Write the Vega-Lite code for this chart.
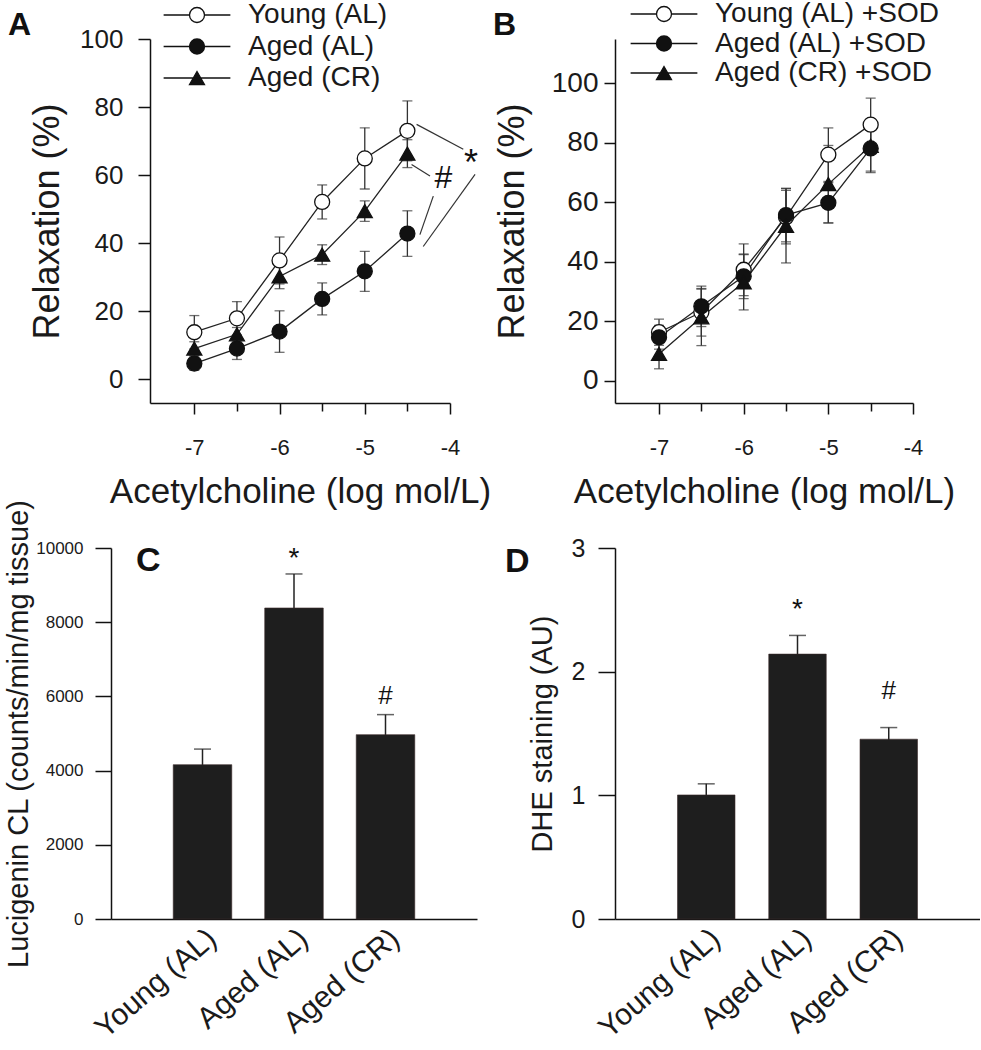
{
  "$schema": "https://vega.github.io/schema/vega-lite/v6.json",
  "background": "white",
  "padding": {"left": 4, "top": 0, "right": 0, "bottom": 0},
  "config": {
    "font": "Liberation Sans",
    "view": {"stroke": null},
    "axis": {"grid": false, "domainColor": "#111", "tickColor": "#111", "labelColor": "#1a1a1a", "titleColor": "#1a1a1a", "labelFont": "Liberation Sans", "titleFont": "Liberation Sans", "titleFontWeight": "normal", "domainWidth": 1.5, "tickWidth": 1.5},
    "title": {"font": "Liberation Sans", "color": "#111"},
    "legend": {"title": null, "padding": 0, "symbolSize": 225, "symbolStrokeColor": "#111", "symbolStrokeWidth": 1.3, "symbolOffset": 0, "labelFont": "Liberation Sans", "labelFontSize": 28, "labelColor": "#1a1a1a", "labelLimit": 400}
  },
  "datasets": {
    "relax": [
      {"panel": "A", "series": "Young (AL)", "conc": -7, "mean": 13.8, "sem": 4.9},
      {"panel": "A", "series": "Young (AL)", "conc": -6.5, "mean": 17.9, "sem": 4.9},
      {"panel": "A", "series": "Young (AL)", "conc": -6, "mean": 34.9, "sem": 6.9},
      {"panel": "A", "series": "Young (AL)", "conc": -5.5, "mean": 52.1, "sem": 5.0},
      {"panel": "A", "series": "Young (AL)", "conc": -5, "mean": 64.9, "sem": 9.0},
      {"panel": "A", "series": "Young (AL)", "conc": -4.5, "mean": 73.0, "sem": 8.8},
      {"panel": "A", "series": "Aged (AL)", "conc": -7, "mean": 4.6, "sem": 2.0},
      {"panel": "A", "series": "Aged (AL)", "conc": -6.5, "mean": 9.0, "sem": 3.2},
      {"panel": "A", "series": "Aged (AL)", "conc": -6, "mean": 14.0, "sem": 6.1},
      {"panel": "A", "series": "Aged (AL)", "conc": -5.5, "mean": 23.6, "sem": 4.7},
      {"panel": "A", "series": "Aged (AL)", "conc": -5, "mean": 31.7, "sem": 5.9},
      {"panel": "A", "series": "Aged (AL)", "conc": -4.5, "mean": 42.8, "sem": 6.7},
      {"panel": "A", "series": "Aged (CR)", "conc": -7, "mean": 9.0, "sem": 2.0},
      {"panel": "A", "series": "Aged (CR)", "conc": -6.5, "mean": 13.2, "sem": 2.0},
      {"panel": "A", "series": "Aged (CR)", "conc": -6, "mean": 30.2, "sem": 3.6},
      {"panel": "A", "series": "Aged (CR)", "conc": -5.5, "mean": 36.6, "sem": 2.9},
      {"panel": "A", "series": "Aged (CR)", "conc": -5, "mean": 49.4, "sem": 3.0},
      {"panel": "A", "series": "Aged (CR)", "conc": -4.5, "mean": 66.3, "sem": 4.1},
      {"panel": "B", "series": "Young (AL)", "conc": -7, "mean": 16.3, "sem": 4.4},
      {"panel": "B", "series": "Young (AL)", "conc": -6.5, "mean": 23.0, "sem": 8.0},
      {"panel": "B", "series": "Young (AL)", "conc": -6, "mean": 37.3, "sem": 8.7},
      {"panel": "B", "series": "Young (AL)", "conc": -5.5, "mean": 55.0, "sem": 9.0},
      {"panel": "B", "series": "Young (AL)", "conc": -5, "mean": 76.0, "sem": 9.0},
      {"panel": "B", "series": "Young (AL)", "conc": -4.5, "mean": 86.1, "sem": 8.9},
      {"panel": "B", "series": "Aged (AL)", "conc": -7, "mean": 14.6, "sem": 4.0},
      {"panel": "B", "series": "Aged (AL)", "conc": -6.5, "mean": 25.0, "sem": 6.8},
      {"panel": "B", "series": "Aged (AL)", "conc": -6, "mean": 35.1, "sem": 7.5},
      {"panel": "B", "series": "Aged (AL)", "conc": -5.5, "mean": 55.7, "sem": 9.0},
      {"panel": "B", "series": "Aged (AL)", "conc": -5, "mean": 59.8, "sem": 6.8},
      {"panel": "B", "series": "Aged (AL)", "conc": -4.5, "mean": 78.1, "sem": 7.6},
      {"panel": "B", "series": "Aged (CR)", "conc": -7, "mean": 9.0, "sem": 5.0},
      {"panel": "B", "series": "Aged (CR)", "conc": -6.5, "mean": 21.3, "sem": 9.5},
      {"panel": "B", "series": "Aged (CR)", "conc": -6, "mean": 33.1, "sem": 9.3},
      {"panel": "B", "series": "Aged (CR)", "conc": -5.5, "mean": 52.1, "sem": 12.5},
      {"panel": "B", "series": "Aged (CR)", "conc": -5, "mean": 66.1, "sem": 13.0},
      {"panel": "B", "series": "Aged (CR)", "conc": -4.5, "mean": 79.0, "sem": 9.0}
    ],
    "brackets": [
      {"conc": -4.392, "mean": 74.9, "conc2": -3.844, "mean2": 67.6},
      {"conc": -3.706, "mean": 60.2, "conc2": -4.314, "mean2": 39.0},
      {"conc": -4.451, "mean": 63.1, "conc2": -4.235, "mean2": 59.7},
      {"conc": -4.196, "mean": 53.8, "conc2": -4.353, "mean2": 42.5}
    ],
    "signifA": [
      {"conc": -3.753, "mean": 63.4, "label": "*"},
      {"conc": -4.079, "mean": 59.2, "label": "#"}
    ],
    "lucigenin": [
      {"group": "Young (AL)", "value": 4160, "sem": 420},
      {"group": "Aged (AL)", "value": 8383, "sem": 917},
      {"group": "Aged (CR)", "value": 4969, "sem": 540}
    ],
    "lucigeninSig": [
      {"group": "Aged (AL)", "value": 9700, "label": "*"},
      {"group": "Aged (CR)", "value": 6000, "label": "#"}
    ],
    "dhe": [
      {"group": "Young (AL)", "value": 1.003, "sem": 0.09},
      {"group": "Aged (AL)", "value": 2.142, "sem": 0.151},
      {"group": "Aged (CR)", "value": 1.454, "sem": 0.094}
    ],
    "dheSig": [
      {"group": "Aged (AL)", "value": 2.5, "label": "*"},
      {"group": "Aged (CR)", "value": 1.84, "label": "#"}
    ]
  },
  "columns": 2,
  "bounds": "flush",
  "align": "each",
  "spacing": {"row": 145, "column": 138},
  "concat": [
    {
      "width": 339,
      "height": 364,
      "title": {"text": "A", "anchor": "start", "frame": "group", "fontSize": 32, "fontWeight": "bold", "baseline": "alphabetic", "offset": 0, "dx": -103, "dy": 66},
      "data": {"name": "relax"},
      "transform": [{"filter": "datum.panel === 'A'"}],
      "encoding": {
        "x": {"field": "conc", "type": "quantitative", "title": "Acetylcholine (log mol/L)",
          "scale": {"domain": [-7.52, -4], "range": [39, 339], "nice": false, "zero": false},
          "axis": {"values": [-7, -6.5, -6, -5.5, -5, -4.5, -4], "tickSize": {"condition": {"test": "datum.value % 1 === 0", "value": 11}, "value": 8}, "labelExpr": "datum.value % 1 === 0 ? '-' + abs(datum.value) : ''", "labelFontSize": 22, "labelPadding": 23, "titleFontSize": 35, "titlePadding": 16, "labelFlush": false, "labelOverlap": false}},
        "y": {"field": "mean", "type": "quantitative", "title": "Relaxation (%)",
          "scale": {"domain": [-7, 100], "nice": false, "zero": false},
          "axis": {"values": [0, 20, 40, 60, 80, 100], "tickSize": 12, "labelPadding": 15, "labelFontSize": 26, "titleFontSize": 36, "titlePadding": 13, "offset": -39}}
      },
      "layer": [
        {"mark": {"type": "errorbar", "ticks": {"size": 10}, "thickness": 1.3, "color": "#333"},
         "encoding": {"yError": {"field": "sem"}}},
        {"mark": {"type": "line", "color": "#222", "strokeWidth": 1.3},
         "encoding": {"detail": {"field": "series"}}},
        {"mark": {"type": "point", "filled": true, "opacity": 1, "size": 225, "stroke": "#111", "strokeWidth": 1.3},
         "encoding": {
           "shape": {"field": "series", "type": "nominal", "scale": {"domain": ["Young (AL)", "Aged (AL)", "Aged (CR)"], "range": ["circle", "circle", "triangle-up"]}, "legend": null},
           "fill": {"field": "series", "type": "nominal", "scale": {"domain": ["Young (AL)", "Aged (AL)", "Aged (CR)"], "range": ["white", "#111", "#111"]}, "legend": null}}},
        {"transform": [{"filter": "false"}],
         "mark": {"type": "point", "filled": true, "opacity": 1, "size": 225, "stroke": "#111", "strokeWidth": 1.3},
         "encoding": {
           "shape": {"field": "series", "type": "nominal", "scale": {"domain": ["Young (AL)", "Aged (AL)", "Aged (CR)"], "range": ["M-4.45,0H-1M1,0H4.45M1,0A1,1,0,1,1,-1,0A1,1,0,1,1,1,0Z", "M-4.45,0H-1M1,0H4.45M1,0A1,1,0,1,1,-1,0A1,1,0,1,1,1,0Z", "M-4.45,0H-0.5M0.5,0H4.45M0,-0.87L1,0.87L-1,0.87Z"]},
             "legend": {"orient": "none", "legendX": 72, "legendY": -38, "labelOffset": 37, "rowPadding": 3.5}},
           "fill": {"field": "series", "type": "nominal", "scale": {"domain": ["Young (AL)", "Aged (AL)", "Aged (CR)"], "range": ["white", "#111", "#111"]},
             "legend": {"orient": "none", "legendX": 72, "legendY": -38, "labelOffset": 37, "rowPadding": 3.5}},
           "stroke": {"field": "series", "type": "nominal", "scale": {"domain": ["Young (AL)", "Aged (AL)", "Aged (CR)"], "range": ["#111", "#111", "#111"]},
             "legend": {"orient": "none", "legendX": 72, "legendY": -38, "labelOffset": 37, "rowPadding": 3.5}}}},
        {"data": {"name": "brackets"},
         "mark": {"type": "rule", "color": "#333", "strokeWidth": 1.2},
         "encoding": {"x2": {"field": "conc2"}, "y2": {"field": "mean2"}}},
        {"data": {"name": "signifA"},
         "transform": [{"filter": "datum.label === '*'"}],
         "mark": {"type": "text", "fontSize": 36, "color": "#111", "font": "Liberation Sans"},
         "encoding": {"text": {"field": "label"}}},
        {"data": {"name": "signifA"},
         "transform": [{"filter": "datum.label === '#'"}],
         "mark": {"type": "text", "fontSize": 32, "color": "#111", "font": "Liberation Sans"},
         "encoding": {"text": {"field": "label"}}}
      ],
      "resolve": {"scale": {"shape": "independent", "fill": "independent", "stroke": "independent"}}
    },
    {
      "width": 298,
      "height": 364,
      "title": {"text": "B", "anchor": "start", "frame": "group", "fontSize": 32, "fontWeight": "bold", "baseline": "alphabetic", "offset": 0, "dx": -122, "dy": 67},
      "data": {"name": "relax"},
      "transform": [{"filter": "datum.panel === 'B'"}],
      "encoding": {
        "x": {"field": "conc", "type": "quantitative", "title": "Acetylcholine (log mol/L)",
          "scale": {"domain": [-7.52, -4], "nice": false, "zero": false},
          "axis": {"values": [-7, -6.5, -6, -5.5, -5, -4.5, -4], "tickSize": {"condition": {"test": "datum.value % 1 === 0", "value": 11}, "value": 8}, "labelExpr": "datum.value % 1 === 0 ? '-' + abs(datum.value) : ''", "labelFontSize": 22, "labelPadding": 23, "titleFontSize": 35, "titlePadding": 16, "labelFlush": false, "labelOverlap": false}},
        "y": {"field": "mean", "type": "quantitative", "title": "Relaxation (%)",
          "scale": {"domain": [-7.5, 114.9], "nice": false, "zero": false},
          "axis": {"values": [0, 20, 40, 60, 80, 100], "tickSize": 11, "labelPadding": 6, "labelFontSize": 28, "titleFontSize": 36, "titlePadding": 20}}
      },
      "layer": [
        {"mark": {"type": "errorbar", "ticks": {"size": 10}, "thickness": 1.3, "color": "#333"},
         "encoding": {"yError": {"field": "sem"}}},
        {"mark": {"type": "line", "color": "#222", "strokeWidth": 1.3},
         "encoding": {"detail": {"field": "series"}}},
        {"mark": {"type": "point", "filled": true, "opacity": 1, "size": 225, "stroke": "#111", "strokeWidth": 1.3},
         "encoding": {
           "shape": {"field": "series", "type": "nominal", "scale": {"domain": ["Young (AL)", "Aged (AL)", "Aged (CR)"], "range": ["circle", "circle", "triangle-up"]}, "legend": null},
           "fill": {"field": "series", "type": "nominal", "scale": {"domain": ["Young (AL)", "Aged (AL)", "Aged (CR)"], "range": ["white", "#111", "#111"]}, "legend": null}}},
        {"transform": [{"filter": "false"}],
         "mark": {"type": "point", "filled": true, "opacity": 1, "size": 225, "stroke": "#111", "strokeWidth": 1.3},
         "encoding": {
           "shape": {"field": "series", "type": "nominal", "scale": {"domain": ["Young (AL)", "Aged (AL)", "Aged (CR)"], "range": ["M-4.45,0H-1M1,0H4.45M1,0A1,1,0,1,1,-1,0A1,1,0,1,1,1,0Z", "M-4.45,0H-1M1,0H4.45M1,0A1,1,0,1,1,-1,0A1,1,0,1,1,1,0Z", "M-4.45,0H-0.5M0.5,0H4.45M0,-0.87L1,0.87L-1,0.87Z"]},
             "legend": {"orient": "none", "legendX": 35, "legendY": -39, "labelOffset": 37, "rowPadding": 1.5, "labelExpr": "datum.label + ' +SOD'"}},
           "fill": {"field": "series", "type": "nominal", "scale": {"domain": ["Young (AL)", "Aged (AL)", "Aged (CR)"], "range": ["white", "#111", "#111"]},
             "legend": {"orient": "none", "legendX": 35, "legendY": -39, "labelOffset": 37, "rowPadding": 1.5, "labelExpr": "datum.label + ' +SOD'"}},
           "stroke": {"field": "series", "type": "nominal", "scale": {"domain": ["Young (AL)", "Aged (AL)", "Aged (CR)"], "range": ["#111", "#111", "#111"]},
             "legend": {"orient": "none", "legendX": 35, "legendY": -39, "labelOffset": 37, "rowPadding": 1.5, "labelExpr": "datum.label + ' +SOD'"}}}}
      ],
      "resolve": {"scale": {"shape": "independent", "fill": "independent", "stroke": "independent"}}
    },
    {
      "width": 366,
      "height": 371,
      "title": {"text": "C", "anchor": "start", "frame": "group", "fontSize": 34, "fontWeight": "bold", "baseline": "alphabetic", "offset": 0, "dx": 25, "dy": 106},
      "data": {"name": "lucigenin"},
      "encoding": {
        "x": {"field": "group", "type": "nominal", "sort": ["Young (AL)", "Aged (AL)", "Aged (CR)"], "title": null,
          "scale": {"paddingInner": 0.36, "paddingOuter": 0.68},
          "axis": {"labelAngle": -41, "labelFontSize": 30, "labelPadding": 4, "ticks": false, "labelLimit": 400, "offset": 0}},
        "y": {"field": "value", "type": "quantitative", "title": "Lucigenin CL (counts/min/mg tissue)",
          "scale": {"domain": [0, 10000], "nice": false},
          "axis": {"values": [0, 2000, 4000, 6000, 8000, 10000], "format": "d", "tickSize": 16, "labelPadding": 12, "labelFontSize": 17, "titleFontSize": 29, "titlePadding": 2, "offset": 0}}
      },
      "layer": [
        {"mark": {"type": "errorbar", "ticks": {"size": 17}, "thickness": 1.5, "color": "#222"},
         "encoding": {"yError": {"field": "sem"}}},
        {"mark": {"type": "bar", "color": "#1e1e1e", "stroke": "#3a2a2a", "strokeWidth": 0.6}},
        {"data": {"name": "lucigeninSig"},
         "transform": [{"filter": "datum.label === '*'"}],
         "mark": {"type": "text", "fontSize": 28, "color": "#111"},
         "encoding": {"text": {"field": "label"}}},
        {"data": {"name": "lucigeninSig"},
         "transform": [{"filter": "datum.label === '#'"}],
         "mark": {"type": "text", "fontSize": 26, "color": "#111"},
         "encoding": {"text": {"field": "label"}}}
      ]
    },
    {
      "width": 365,
      "height": 371,
      "title": {"text": "D", "anchor": "start", "frame": "group", "fontSize": 34, "fontWeight": "bold", "baseline": "alphabetic", "offset": 0, "dx": -110, "dy": 70},
      "data": {"name": "dhe"},
      "encoding": {
        "x": {"field": "group", "type": "nominal", "sort": ["Young (AL)", "Aged (AL)", "Aged (CR)"], "title": null,
          "scale": {"paddingInner": 0.37, "paddingOuter": 0.685},
          "axis": {"labelAngle": -41, "labelFontSize": 30, "labelPadding": 4, "ticks": false, "labelLimit": 400, "offset": 0}},
        "y": {"field": "value", "type": "quantitative", "title": "DHE staining (AU)",
          "scale": {"domain": [0, 3], "nice": false},
          "axis": {"values": [0, 1, 2, 3], "tickSize": 17, "labelPadding": 13, "labelFontSize": 25, "titleFontSize": 29, "titlePadding": 14, "offset": 0}}
      },
      "layer": [
        {"mark": {"type": "errorbar", "ticks": {"size": 17}, "thickness": 1.5, "color": "#222"},
         "encoding": {"yError": {"field": "sem"}}},
        {"mark": {"type": "bar", "color": "#1e1e1e", "stroke": "#3a2a2a", "strokeWidth": 0.6}},
        {"data": {"name": "dheSig"},
         "transform": [{"filter": "datum.label === '*'"}],
         "mark": {"type": "text", "fontSize": 28, "color": "#111"},
         "encoding": {"text": {"field": "label"}}},
        {"data": {"name": "dheSig"},
         "transform": [{"filter": "datum.label === '#'"}],
         "mark": {"type": "text", "fontSize": 26, "color": "#111"},
         "encoding": {"text": {"field": "label"}}}
      ]
    }
  ]
}
